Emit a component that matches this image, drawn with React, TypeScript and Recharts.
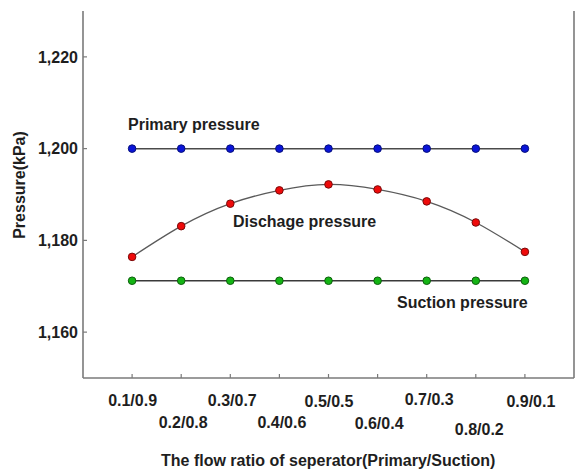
import React from 'react';
import {
  LineChart,
  Line,
  XAxis,
  YAxis,
  Customized,
} from 'recharts';

// Flow split between primary and suction streams (Primary/Suction)
const ratioLabels = [
  '0.1/0.9',
  '0.2/0.8',
  '0.3/0.7',
  '0.4/0.6',
  '0.5/0.5',
  '0.6/0.4',
  '0.7/0.3',
  '0.8/0.2',
  '0.9/0.1',
];

// Pressures in kPa
const primaryPressure = [1200, 1200, 1200, 1200, 1200, 1200, 1200, 1200, 1200];
const dischargePressure = [1176.4, 1183.1, 1188.0, 1190.9, 1192.2, 1191.1, 1188.5, 1183.9, 1177.5];
const suctionPressure = [1171.2, 1171.2, 1171.2, 1171.2, 1171.2, 1171.2, 1171.2, 1171.2, 1171.2];

const yTicks = [1160, 1180, 1200, 1220];

const data = ratioLabels.map((label, i) => ({
  x: i + 1,
  label,
  primary: primaryPressure[i],
  discharge: dischargePressure[i],
  suction: suctionPressure[i],
}));

const FONT = '"Liberation Sans", Arial, Helvetica, sans-serif';
const TEXT = '#1e1e1e';
const AXIS = '#7a7a7a';

// Staggered two-row layout for the category labels
const tickDx = [0.5, 2, 2, 2.5, 0.5, 1.5, 2.5, 3.5, 6];
const tickDy = [28, 50, 28, 50, 28.5, 51, 27, 57, 28.5];

const RatioTick = (props: any) => {
  const { x, y, payload } = props;
  const i = Math.round(payload.value) - 1;
  if (i < 0 || i >= ratioLabels.length) return null;
  return (
    <text
      x={x + tickDx[i]}
      y={y + tickDy[i]}
      textAnchor="middle"
      fontFamily={FONT}
      fontSize={16}
      fontWeight="bold"
      fill={TEXT}
    >
      {ratioLabels[i]}
    </text>
  );
};

const EmptyTick = () => <g />;

const Annotations = () => (
  <g fontFamily={FONT} fontSize={16} fontWeight="bold" fill={TEXT}>
    <text x={128} y={130}>Primary pressure</text>
    <text x={233} y={226.5}>Dischage pressure</text>
    <text x={397} y={308}>Suction pressure</text>
    <text x={161} y={466}>The flow ratio of seperator(Primary/Suction)</text>
    <text transform="translate(25,185) rotate(-90)" textAnchor="middle">
      Pressure(kPa)
    </text>
  </g>
);

const dotStyle = (fill: string, stroke: string) => ({
  r: 3.8,
  fill,
  stroke,
  strokeWidth: 1,
});

export default function App() {
  return (
    <div style={{ position: 'absolute', left: 0, top: 0, background: '#fff' }}>
      <LineChart
        width={576}
        height={469}
        data={data}
        margin={{ top: 11, right: 0, bottom: 0, left: 0 }}
      >
        <XAxis
          dataKey="x"
          type="number"
          domain={[0, 10]}
          ticks={[1, 2, 3, 4, 5, 6, 7, 8, 9]}
          height={91}
          tickSize={-4}
          tickMargin={4}
          tick={<RatioTick />}
          axisLine={{ stroke: AXIS, strokeWidth: 1.6 }}
          tickLine={{ stroke: AXIS, strokeWidth: 1.2 }}
          interval={0}
        />
        <XAxis
          xAxisId="top"
          orientation="top"
          type="number"
          domain={[0, 10]}
          height={0}
          tick={false}
          tickLine={false}
          axisLine={{ stroke: AXIS, strokeWidth: 1.6 }}
        />
        <YAxis
          type="number"
          domain={[1150, 1230]}
          ticks={yTicks}
          width={83}
          tickSize={-4}
          tickMargin={9}
          tickFormatter={(v: number) => v.toLocaleString('en-US')}
          tick={{ fontFamily: FONT, fontSize: 16, fontWeight: 'bold', fill: TEXT }}
          axisLine={{ stroke: AXIS, strokeWidth: 1.6 }}
          tickLine={{ stroke: AXIS, strokeWidth: 1.2 }}
          interval={0}
        />
        <YAxis
          yAxisId="right"
          orientation="right"
          type="number"
          domain={[1150, 1230]}
          ticks={yTicks}
          width={2}
          tickSize={-4}
          tick={<EmptyTick />}
          axisLine={{ stroke: AXIS, strokeWidth: 1.6 }}
          tickLine={{ stroke: AXIS, strokeWidth: 1.2 }}
          interval={0}
        />
        <Line
          dataKey="primary"
          type="linear"
          stroke="#4a4a4a"
          strokeWidth={1.5}
          dot={dotStyle('#0a14d8', '#06107a')}
          activeDot={false}
          isAnimationActive={false}
        />
        <Line
          dataKey="suction"
          type="linear"
          stroke="#3a3a3a"
          strokeWidth={1.5}
          dot={dotStyle('#14b414', '#0b5e0b')}
          activeDot={false}
          isAnimationActive={false}
        />
        <Line
          dataKey="discharge"
          type="natural"
          stroke="#5a5a5a"
          strokeWidth={1.3}
          dot={dotStyle('#ee0a0a', '#7a0a0a')}
          activeDot={false}
          isAnimationActive={false}
        />
        <Customized component={Annotations} />
      </LineChart>
    </div>
  );
}
